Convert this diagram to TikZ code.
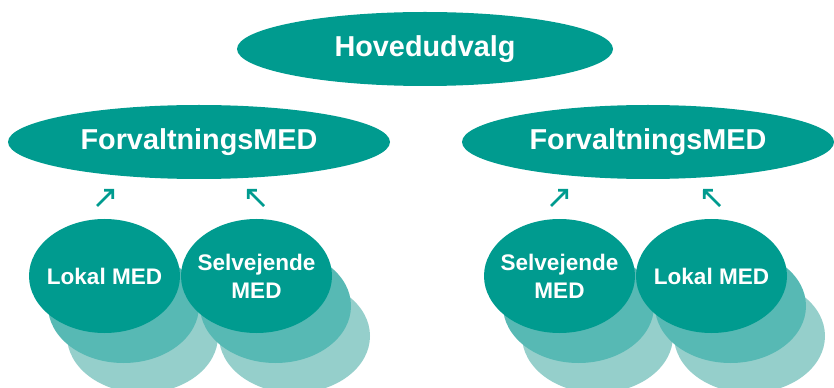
\documentclass[tikz,border=0pt]{standalone}
\usepackage{fontspec}
\setmainfont{Liberation Sans}
\usetikzlibrary{shapes.geometric,arrows.meta}
\definecolor{tmain}{RGB}{0,155,143}
\definecolor{tmid}{RGB}{87,185,180}
\definecolor{tlight}{RGB}{149,207,203}
\begin{document}
\begin{tikzpicture}[x=0.75pt,y=-0.75pt,
  big/.style={ellipse,fill=tmain,text=white,inner sep=0pt,font=\bfseries\fontsize{21.6pt}{26pt}\selectfont},
  small/.style={ellipse,fill=tmain,inner sep=0pt,minimum width=113.25pt,minimum height=85.5pt,
    label={[text=white,align=center,inner sep=0pt,font=\bfseries\fontsize{16.9pt}{21pt}\selectfont]center:#1}},
  sh1/.style={fill=tmid},
  sh2/.style={fill=tlight},
  up/.style={draw=tmain,line width=2.1pt,-{Straight Barb[length=4.4pt,width=9pt]}}]
\useasboundingbox (0,0) rectangle (834,388);
\node[big,minimum width=282pt,minimum height=55.5pt] (hov) at (425,49) {Hovedudvalg};
\node[big,minimum width=286.5pt,minimum height=55.5pt] (fl) at (199,142) {ForvaltningsMED};
\node[big,minimum width=279pt,minimum height=55.5pt] (fr) at (648,142) {ForvaltningsMED};
% left group
\fill[sh2] (104.5+38,276+60) ellipse [x radius=75.5,y radius=57];
\fill[sh1] (104.5+19,276+30) ellipse [x radius=75.5,y radius=57];
\node[small={Lokal MED}] (ll) at (104.5,276) {};
\fill[sh2] (256.5+38,276+60) ellipse [x radius=75.5,y radius=57];
\fill[sh1] (256.5+19,276+30) ellipse [x radius=75.5,y radius=57];
\node[small={Selvejende\\MED}] (sl) at (256.5,276) {};
% right group
\fill[sh2] (559.5+38,276+60) ellipse [x radius=75.5,y radius=57];
\fill[sh1] (559.5+19,276+30) ellipse [x radius=75.5,y radius=57];
\node[small={Selvejende\\MED}] (sr) at (559.5,276) {};
\fill[sh2] (711.5+38,276+60) ellipse [x radius=75.5,y radius=57];
\fill[sh1] (711.5+19,276+30) ellipse [x radius=75.5,y radius=57];
\node[small={Lokal MED}] (lr) at (711.5,276) {};
% arrows
\coordinate (a1s) at (97,206); \coordinate (a1e) at (114,189);
\coordinate (a2s) at (264,206); \coordinate (a2e) at (247,189);
\coordinate (a3s) at (551,206); \coordinate (a3e) at (568,189);
\coordinate (a4s) at (720,206); \coordinate (a4e) at (703,189);
\draw[up] (a1s) -- (a1e);
\draw[up] (a2s) -- (a2e);
\draw[up] (a3s) -- (a3e);
\draw[up] (a4s) -- (a4e);
\end{tikzpicture}
\end{document}
